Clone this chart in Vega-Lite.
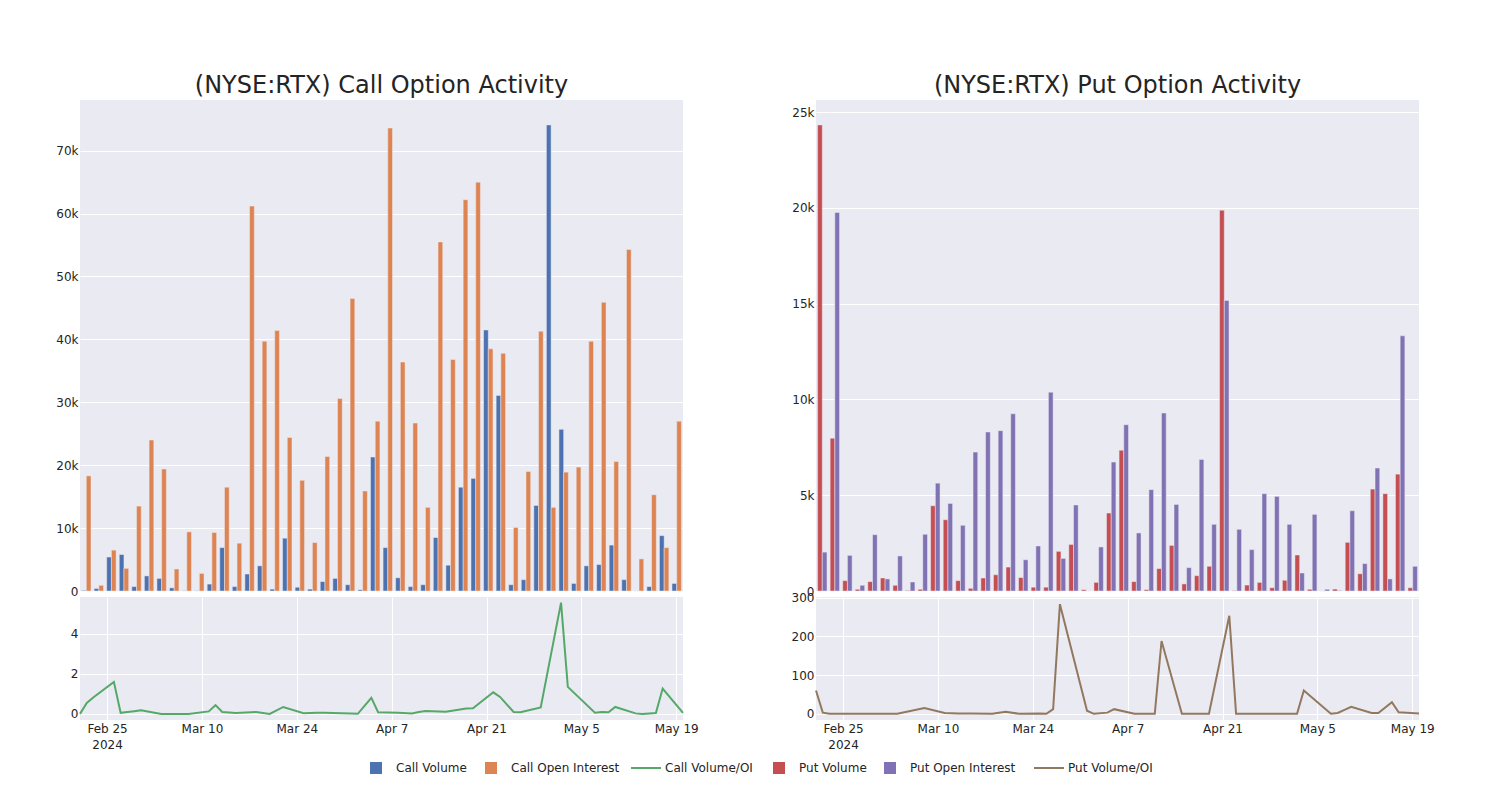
{
  "$schema": "https://vega.github.io/schema/vega-lite/v6.json",
  "padding": {"left": 55, "top": 74, "right": 10, "bottom": 10},
  "background": "white",
  "spacing": 92,
  "config": {
    "font": "DejaVu Sans",
    "view": {"stroke": null, "fill": "#EAEAF2"},
    "axis": {"gridColor": "white", "gridWidth": 1, "gridOpacity": 1, "domain": false, "ticks": false, "labelFont": "DejaVu Sans", "labelFontSize": 12, "labelColor": "#242424", "labelPadding": 3, "title": null},
    "legend": {"orient": "none", "direction": "horizontal", "title": null, "padding": 0, "labelFont": "DejaVu Sans", "labelFontSize": 12, "labelColor": "#242424", "labelLimit": 300},
    "title": {"fontSize": 24, "font": "DejaVu Sans", "fontWeight": "normal", "color": "#242424", "anchor": "middle", "baseline": "alphabetic", "offset": 2, "frame": "group"}
  },
  "datasets": {
    "d": [
      {"date": "2024-02-21", "Call Volume": 100, "Call Open Interest": 18300, "cr": 0.005, "Put Volume": 24330, "Put Open Interest": 2030, "pr": 60},
      {"date": "2024-02-22", "Call Volume": 400, "Call Open Interest": 900, "cr": 0.55, "Put Volume": 7980, "Put Open Interest": 19760, "pr": 3},
      {"date": "2024-02-23", "Call Volume": 5400, "Call Open Interest": 6500, "cr": 0.83, "Put Volume": 540, "Put Open Interest": 1860, "pr": 0},
      {"date": "2024-02-26", "Call Volume": 5800, "Call Open Interest": 3600, "cr": 1.6, "Put Volume": 90, "Put Open Interest": 300, "pr": 0},
      {"date": "2024-02-27", "Call Volume": 700, "Call Open Interest": 13500, "cr": 0.06, "Put Volume": 490, "Put Open Interest": 2940, "pr": 0},
      {"date": "2024-02-28", "Call Volume": 2400, "Call Open Interest": 24000, "cr": 0.1, "Put Volume": 680, "Put Open Interest": 630, "pr": 0},
      {"date": "2024-02-29", "Call Volume": 2000, "Call Open Interest": 19400, "cr": 0.14, "Put Volume": 300, "Put Open Interest": 1830, "pr": 0},
      {"date": "2024-03-01", "Call Volume": 500, "Call Open Interest": 3500, "cr": 0.18, "Put Volume": 30, "Put Open Interest": 470, "pr": 0},
      {"date": "2024-03-04", "Call Volume": 30, "Call Open Interest": 9400, "cr": 0.0, "Put Volume": 90, "Put Open Interest": 2960, "pr": 0},
      {"date": "2024-03-08", "Call Volume": 30, "Call Open Interest": 2800, "cr": 0.0, "Put Volume": 4450, "Put Open Interest": 5630, "pr": 15},
      {"date": "2024-03-11", "Call Volume": 1100, "Call Open Interest": 9300, "cr": 0.13, "Put Volume": 3720, "Put Open Interest": 4570, "pr": 2},
      {"date": "2024-03-12", "Call Volume": 6900, "Call Open Interest": 16500, "cr": 0.44, "Put Volume": 540, "Put Open Interest": 3430, "pr": 1.5},
      {"date": "2024-03-13", "Call Volume": 700, "Call Open Interest": 7600, "cr": 0.1, "Put Volume": 140, "Put Open Interest": 7250, "pr": 1},
      {"date": "2024-03-15", "Call Volume": 2700, "Call Open Interest": 61200, "cr": 0.05, "Put Volume": 680, "Put Open Interest": 8300, "pr": 0.5},
      {"date": "2024-03-18", "Call Volume": 4000, "Call Open Interest": 39700, "cr": 0.1, "Put Volume": 850, "Put Open Interest": 8370, "pr": 0},
      {"date": "2024-03-20", "Call Volume": 300, "Call Open Interest": 41400, "cr": 0.0, "Put Volume": 1250, "Put Open Interest": 9250, "pr": 5},
      {"date": "2024-03-22", "Call Volume": 8400, "Call Open Interest": 24400, "cr": 0.35, "Put Volume": 700, "Put Open Interest": 1630, "pr": 0},
      {"date": "2024-03-25", "Call Volume": 600, "Call Open Interest": 17600, "cr": 0.04, "Put Volume": 200, "Put Open Interest": 2350, "pr": 1},
      {"date": "2024-03-26", "Call Volume": 300, "Call Open Interest": 7700, "cr": 0.05, "Put Volume": 200, "Put Open Interest": 10380, "pr": 0},
      {"date": "2024-03-27", "Call Volume": 1500, "Call Open Interest": 21400, "cr": 0.06, "Put Volume": 2070, "Put Open Interest": 1700, "pr": 12},
      {"date": "2024-03-28", "Call Volume": 2000, "Call Open Interest": 30600, "cr": 0.06, "Put Volume": 2430, "Put Open Interest": 4490, "pr": 283},
      {"date": "2024-04-01", "Call Volume": 1000, "Call Open Interest": 46500, "cr": 0.03, "Put Volume": 70, "Put Open Interest": 0, "pr": 8},
      {"date": "2024-04-02", "Call Volume": 200, "Call Open Interest": 15900, "cr": 0.01, "Put Volume": 450, "Put Open Interest": 2300, "pr": 0},
      {"date": "2024-04-04", "Call Volume": 21300, "Call Open Interest": 27000, "cr": 0.8, "Put Volume": 4070, "Put Open Interest": 6730, "pr": 3},
      {"date": "2024-04-05", "Call Volume": 6900, "Call Open Interest": 73600, "cr": 0.09, "Put Volume": 7350, "Put Open Interest": 8680, "pr": 12},
      {"date": "2024-04-08", "Call Volume": 2100, "Call Open Interest": 36400, "cr": 0.06, "Put Volume": 490, "Put Open Interest": 3030, "pr": 0},
      {"date": "2024-04-10", "Call Volume": 700, "Call Open Interest": 26700, "cr": 0.03, "Put Volume": 70, "Put Open Interest": 5290, "pr": 0},
      {"date": "2024-04-11", "Call Volume": 1000, "Call Open Interest": 13300, "cr": 0.1, "Put Volume": 1170, "Put Open Interest": 9290, "pr": 0},
      {"date": "2024-04-12", "Call Volume": 8500, "Call Open Interest": 55500, "cr": 0.15, "Put Volume": 2380, "Put Open Interest": 4520, "pr": 188},
      {"date": "2024-04-15", "Call Volume": 4100, "Call Open Interest": 36800, "cr": 0.11, "Put Volume": 370, "Put Open Interest": 1220, "pr": 0},
      {"date": "2024-04-18", "Call Volume": 16500, "Call Open Interest": 62200, "cr": 0.27, "Put Volume": 800, "Put Open Interest": 6870, "pr": 0},
      {"date": "2024-04-19", "Call Volume": 17900, "Call Open Interest": 65000, "cr": 0.28, "Put Volume": 1290, "Put Open Interest": 3480, "pr": 0},
      {"date": "2024-04-22", "Call Volume": 41500, "Call Open Interest": 38500, "cr": 1.08, "Put Volume": 19880, "Put Open Interest": 15170, "pr": 253},
      {"date": "2024-04-23", "Call Volume": 31100, "Call Open Interest": 37800, "cr": 0.85, "Put Volume": 20, "Put Open Interest": 3220, "pr": 0},
      {"date": "2024-04-25", "Call Volume": 1000, "Call Open Interest": 10100, "cr": 0.1, "Put Volume": 310, "Put Open Interest": 2160, "pr": 0},
      {"date": "2024-04-26", "Call Volume": 1800, "Call Open Interest": 19000, "cr": 0.09, "Put Volume": 450, "Put Open Interest": 5080, "pr": 0},
      {"date": "2024-04-29", "Call Volume": 13600, "Call Open Interest": 41300, "cr": 0.33, "Put Volume": 170, "Put Open Interest": 4940, "pr": 0},
      {"date": "2024-05-02", "Call Volume": 74100, "Call Open Interest": 13300, "cr": 5.55, "Put Volume": 560, "Put Open Interest": 3480, "pr": 0},
      {"date": "2024-05-03", "Call Volume": 25700, "Call Open Interest": 18900, "cr": 1.35, "Put Volume": 1880, "Put Open Interest": 940, "pr": 60},
      {"date": "2024-05-07", "Call Volume": 1200, "Call Open Interest": 19700, "cr": 0.06, "Put Volume": 90, "Put Open Interest": 4000, "pr": 0},
      {"date": "2024-05-08", "Call Volume": 4000, "Call Open Interest": 39700, "cr": 0.1, "Put Volume": 0, "Put Open Interest": 90, "pr": 2},
      {"date": "2024-05-09", "Call Volume": 4200, "Call Open Interest": 45900, "cr": 0.09, "Put Volume": 100, "Put Open Interest": 30, "pr": 10},
      {"date": "2024-05-10", "Call Volume": 7300, "Call Open Interest": 20600, "cr": 0.35, "Put Volume": 2540, "Put Open Interest": 4190, "pr": 18},
      {"date": "2024-05-13", "Call Volume": 1800, "Call Open Interest": 54300, "cr": 0.03, "Put Volume": 900, "Put Open Interest": 1430, "pr": 2},
      {"date": "2024-05-14", "Call Volume": 0, "Call Open Interest": 5100, "cr": 0.0, "Put Volume": 5320, "Put Open Interest": 6420, "pr": 2},
      {"date": "2024-05-16", "Call Volume": 700, "Call Open Interest": 15300, "cr": 0.05, "Put Volume": 5080, "Put Open Interest": 630, "pr": 30},
      {"date": "2024-05-17", "Call Volume": 8800, "Call Open Interest": 6900, "cr": 1.27, "Put Volume": 6100, "Put Open Interest": 13320, "pr": 4},
      {"date": "2024-05-20", "Call Volume": 1200, "Call Open Interest": 27000, "cr": 0.05, "Put Volume": 170, "Put Open Interest": 1290, "pr": 1}
    ]
  },
  "resolve": {"scale": {"x": "independent", "y": "independent", "xOffset": "independent"}},
  "hconcat": [
    {
      "bounds": "flush",
      "spacing": 6,
      "resolve": {"scale": {"x": "independent", "y": "independent", "xOffset": "independent"}},
      "vconcat": [
        {
          "width": 603, "height": 491,
          "title": {"text": "(NYSE:RTX) Call Option Activity"},
          "data": {"name": "d"},
          "transform": [{"fold": ["Call Volume", "Call Open Interest"], "as": ["series", "val"]}],
          "mark": {"type": "bar", "stroke": "#EAEAF2", "strokeWidth": 0.5},
          "encoding": {
            "x": {"field": "date", "type": "ordinal", "scale": {"paddingInner": 0.25, "paddingOuter": 0.125}, "axis": {"labels": false, "grid": true, "values": ["2024-02-21", "2024-03-11", "2024-03-28", "2024-04-18", "2024-05-08"]}},
            "xOffset": {"field": "series", "type": "nominal", "sort": ["Call Volume", "Call Open Interest"], "scale": {"paddingInner": 0, "paddingOuter": 0}},
            "y": {"field": "val", "type": "quantitative", "scale": {"domain": [0, 78060], "nice": false}, "axis": {"values": [0, 10000, 20000, 30000, 40000, 50000, 60000, 70000], "labelExpr": "datum.value == 0 ? '0' : (datum.value / 1000) + 'k'", "labelPadding": 2}},
            "color": {
              "field": "series", "type": "nominal",
              "scale": {"domain": ["Call Volume", "Call Open Interest"], "range": ["#4C72B0", "#DD8452"]},
              "legend": {"legendX": 290, "legendY": 662, "columns": 2, "symbolType": "square", "symbolSize": 144, "symbolStrokeWidth": 0, "symbolOpacity": 1, "labelOffset": 14, "columnPadding": 18}
            }
          }
        },
        {
          "width": 603, "height": 123,
          "data": {"name": "d"},
          "mark": {"type": "line", "strokeWidth": 2},
          "encoding": {
            "x": {"field": "date", "type": "temporal", "scale": {"type": "utc", "domain": [{"year": 2024, "month": 2, "date": 21, "utc": true}, {"year": 2024, "month": 5, "date": 20, "utc": true}]},
              "axis": {"grid": true, "labelPadding": 3, "labelLineHeight": 16, "labelFlush": false, "labelOverlap": false,
                "values": [{"year": 2024, "month": 2, "date": 25, "utc": true}, {"year": 2024, "month": 3, "date": 10, "utc": true}, {"year": 2024, "month": 3, "date": 24, "utc": true}, {"year": 2024, "month": 4, "date": 7, "utc": true}, {"year": 2024, "month": 4, "date": 21, "utc": true}, {"year": 2024, "month": 5, "date": 5, "utc": true}, {"year": 2024, "month": 5, "date": 19, "utc": true}],
                "labelExpr": "utcFormat(datum.value, '%m%d') == '0225' ? ['Feb 25', '2024'] : utcFormat(datum.value, '%b %-d')"}},
            "y": {"field": "cr", "type": "quantitative", "scale": {"domain": [-0.3, 5.83], "nice": false, "zero": false}, "axis": {"values": [0, 2, 4], "labelPadding": 2}},
            "stroke": {"datum": "Call Volume/OI", "type": "nominal",
              "scale": {"domain": ["Call Volume/OI", "Put Volume/OI"], "range": ["#55A868", "#937860"]},
              "legend": {"legendX": 550, "legendY": 652, "columns": 2, "symbolType": "stroke", "symbolSize": 900, "symbolStrokeWidth": 2, "labelOffset": 3, "columnPadding": 277}}
          }
        }
      ]
    },
    {
      "bounds": "flush",
      "spacing": 6,
      "resolve": {"scale": {"x": "independent", "y": "independent", "xOffset": "independent"}},
      "vconcat": [
        {
          "width": 603, "height": 491,
          "title": {"text": "(NYSE:RTX) Put Option Activity"},
          "data": {"name": "d"},
          "transform": [{"fold": ["Put Volume", "Put Open Interest"], "as": ["series", "val"]}],
          "mark": {"type": "bar", "stroke": "#EAEAF2", "strokeWidth": 0.5},
          "encoding": {
            "x": {"field": "date", "type": "ordinal", "scale": {"paddingInner": 0.25, "paddingOuter": 0.125}, "axis": {"labels": false, "grid": true, "values": ["2024-02-21", "2024-03-11", "2024-03-28", "2024-04-18", "2024-05-08"]}},
            "xOffset": {"field": "series", "type": "nominal", "sort": ["Put Volume", "Put Open Interest"], "scale": {"paddingInner": 0, "paddingOuter": 0}},
            "y": {"field": "val", "type": "quantitative", "scale": {"domain": [0, 25630], "nice": false}, "axis": {"values": [0, 5000, 10000, 15000, 20000, 25000], "labelExpr": "datum.value == 0 ? '0' : (datum.value / 1000) + 'k'", "labelPadding": 2}},
            "fill": {"field": "series", "type": "nominal",
              "scale": {"domain": ["Put Volume", "Put Open Interest"], "range": ["#C44E52", "#8172B3"]},
              "legend": {"legendX": 693, "legendY": 662, "columns": 2, "symbolType": "square", "symbolSize": 144, "symbolStrokeWidth": 0, "symbolOpacity": 1, "labelOffset": 14, "columnPadding": 17}}
          }
        },
        {
          "width": 603, "height": 123,
          "data": {"name": "d"},
          "mark": {"type": "line", "strokeWidth": 2},
          "encoding": {
            "x": {"field": "date", "type": "temporal", "scale": {"type": "utc", "domain": [{"year": 2024, "month": 2, "date": 21, "utc": true}, {"year": 2024, "month": 5, "date": 20, "utc": true}]},
              "axis": {"grid": true, "labelPadding": 3, "labelLineHeight": 16, "labelFlush": false, "labelOverlap": false,
                "values": [{"year": 2024, "month": 2, "date": 25, "utc": true}, {"year": 2024, "month": 3, "date": 10, "utc": true}, {"year": 2024, "month": 3, "date": 24, "utc": true}, {"year": 2024, "month": 4, "date": 7, "utc": true}, {"year": 2024, "month": 4, "date": 21, "utc": true}, {"year": 2024, "month": 5, "date": 5, "utc": true}, {"year": 2024, "month": 5, "date": 19, "utc": true}],
                "labelExpr": "utcFormat(datum.value, '%m%d') == '0225' ? ['Feb 25', '2024'] : utcFormat(datum.value, '%b %-d')"}},
            "y": {"field": "pr", "type": "quantitative", "scale": {"domain": [-16, 301.5], "nice": false, "zero": false}, "axis": {"values": [0, 100, 200, 300], "labelPadding": 2}},
            "stroke": {"datum": "Put Volume/OI", "type": "nominal", "scale": {"domain": ["Call Volume/OI", "Put Volume/OI"], "range": ["#55A868", "#937860"]}}
          }
        }
      ]
    }
  ]
}
